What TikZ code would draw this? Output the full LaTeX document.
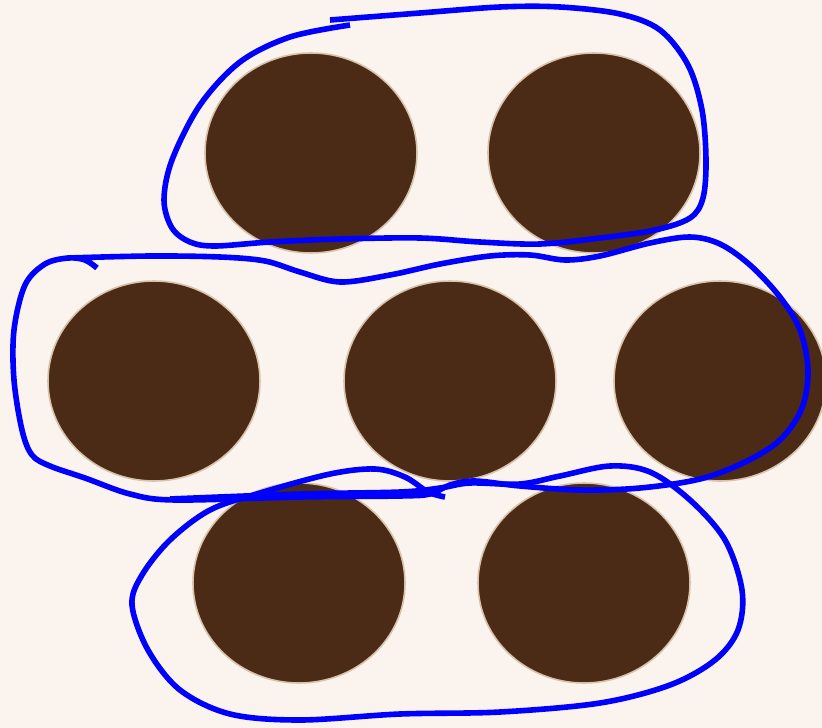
\documentclass[tikz,border=0pt]{standalone}
\usetikzlibrary{shapes.geometric}
\definecolor{bg-cream}{HTML}{FBF4EE}
\definecolor{dot-brown}{HTML}{4B2A16}
\definecolor{dot-rim}{HTML}{D8C2AB}
\definecolor{loop-blue}{HTML}{0000FF}
\begin{document}
\begin{tikzpicture}[x=1pt, y=-1pt]
  \tikzset{
    dot/.style={ellipse, draw=dot-rim, line width=1.6pt, fill=dot-brown, minimum width=212pt, minimum height=200pt, inner sep=0pt},
    lasso/.style={loop-blue, line width=5.6pt, line join=round}
  }

  \fill[bg-cream] (0,0) rectangle (822,728);
  \useasboundingbox (0,0) rectangle (822,728);

  \begin{scope}
    \clip (0,0) rectangle (822,728);
    \node (topl) [dot] at (311,153) {};
    \node (topr) [dot] at (594,153) {};
    \node (midl) [dot] at (154,381) {};
    \node (midc) [dot] at (450,381) {};
    \node (midr) [dot] at (720,381) {};
    \node (botl) [dot] at (299,583) {};
    \node (botr) [dot] at (584,583) {};
  \end{scope}

  % top group
  \draw[lasso] plot[smooth, tension=0.55] coordinates {
    (330,20) (420,13) (500,7) (560,7) (620,14) (660,30) (688,65) (702,110)
    (706,160) (703,198) (690,218) (655,230) (600,238) (540,244) (480,242)
    (420,238) (340,239) (270,242) (215,246) (190,242) (172,228) (164,200)
    (172,160) (200,105) (240,62) (290,37) (350,25)};

  % middle group
  \draw[lasso] plot[smooth, tension=0.55] coordinates {
    (97,268) (85,260) (68,258) (45,264) (25,285) (14,330) (14,380) (22,430)
    (32,455) (50,466) (85,478) (130,494) (175,500) (300,497) (400,496)
    (430,494) (450,485) (475,481) (520,486) (580,490) (640,488) (700,479)
    (745,462) (780,440) (802,408) (808,370) (800,330) (780,297) (750,265)
    (720,244) (690,237) (650,243) (600,256) (565,260) (530,255) (490,256)
    (440,264) (390,275) (340,282) (300,272) (265,261) (220,257) (150,256)
    (68,258)};

  % bottom group
  \draw[lasso] plot[smooth, tension=0.55] coordinates {
    (170,499) (300,494) (400,492) (440,488) (470,483) (520,484) (560,476)
    (610,466) (650,472) (690,500) (725,540) (742,590) (738,630) (715,660)
    (670,685) (600,703) (500,712) (400,714) (300,720) (230,714) (180,690)
    (148,650) (132,605) (142,575) (170,540) (210,510) (260,493) (330,474)
    (375,469) (405,477) (428,492) (445,497)};
\end{tikzpicture}
\end{document}
